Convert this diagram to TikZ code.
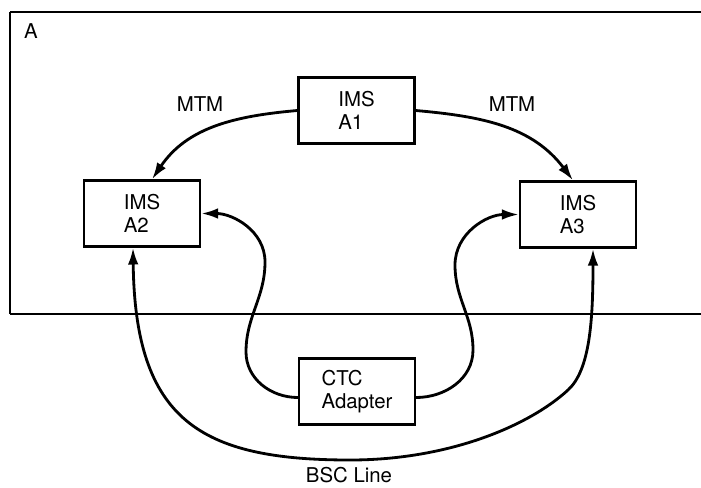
\documentclass[tikz,border=0pt]{standalone}
\usepackage{fontspec}
\setmainfont{TeX Gyre Heros}
\usepackage{tikz}
\usetikzlibrary{arrows.meta,calc}
\tikzstyle{arrow} = [-{Latex[length=12pt,width=7.5pt]}, line width=2pt]
\tikzstyle{dblarrow} = [{Latex[length=12pt,width=7.5pt]}-{Latex[length=12pt,width=7.5pt]}, line width=2pt]
\tikzstyle{box} = [draw, line width=1.6pt, minimum width=2.9cm, minimum height=1.65cm, align=left]

\begin{document}
\begin{tikzpicture}[x=0.025cm, y=0.025cm, font=\fontsize{14.5}{16.5}\selectfont]
    \useasboundingbox (0,0) rectangle (701,-487);

    % System A frame (open to the right)
    \draw[line width=1.5pt] (10,-12) -- (701,-12);
    \draw[line width=1.5pt] (10,-12) -- (10,-314);
    \draw[line width=1.1pt] (10,-314) -- (701,-314);
    \node (lblA) at (31,-31) {A};

    % IMS systems
    \node[box] (a1) at (356.5,-110.5) {IMS\\A1};
    \node[box] (a2) at (142,-213.5) {IMS\\A2};
    \node[box] (a3) at (578,-214.5) {IMS\\A3};

    % Adapter
    \node[box] (ctc) at (357,-391.5) {CTC\\Adapter};

    % MTM links
    \draw[arrow] (a1.west) to[out=185,in=56] ($(a2.north)+(10,0)$);
    \draw[arrow] (a1.east) to[out=-5,in=127] ($(a3.north)+(-5,0)$);
    \node (mtm1) at (200,-104) {MTM};
    \node (mtm2) at (512,-104) {MTM};

    % CTC links
    \draw[arrow] ($(ctc.west)+(0,-6)$) to[out=180,in=-90] (246,-352)
        to[out=90,in=-90] (265,-262) to[out=90,in=0] (a2.east);
    \draw[arrow] ($(ctc.east)+(0,-6)$) to[out=0,in=-90] (473,-350)
        to[out=90,in=-90] (455,-265) to[out=90,in=180] (a3.west);

    % BSC line
    \draw[dblarrow] ($(a2.south)+(-9,0)$) .. controls (135,-420) and (200,-460) .. (350,-460)
        .. controls (450,-460) and (530,-425) .. (568,-390)
        .. controls (590,-370) and (593,-320) .. ($(a3.south)+(15,0)$);
    \node (bsc) at (349,-475) {BSC Line};
\end{tikzpicture}
\end{document}
